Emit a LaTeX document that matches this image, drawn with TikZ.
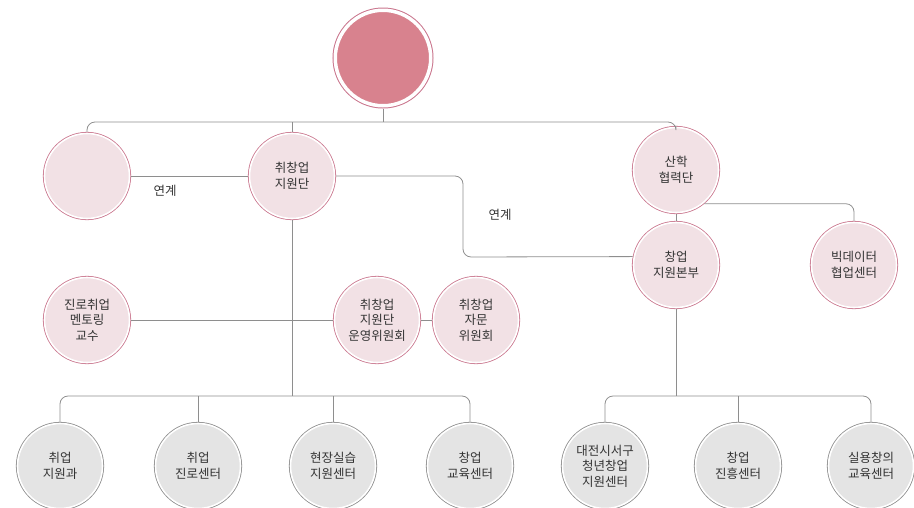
\documentclass[tikz,border=0pt]{standalone}
\usepackage{fontspec}
\newfontfamily\kr{Noto Sans CJK KR}
\definecolor{pinkring}{HTML}{C9748C}
\definecolor{pinkfill}{HTML}{F2E1E5}
\definecolor{topfill}{HTML}{D8828E}
\definecolor{grayring}{HTML}{8C8C8C}
\definecolor{grayfill}{HTML}{E4E4E4}
\definecolor{linegray}{HTML}{8E8E8E}
\definecolor{textgray}{HTML}{333333}
\begin{document}
\begin{tikzpicture}[x=1pt, y=-1pt,
		unit/.style={circle, inner sep=0pt, outer sep=1.6pt, minimum size=85pt, align=center,
			font=\kr\fontsize{12.5}{15.5}\selectfont, text=textgray, draw=white, line width=1.6pt},
		pinkunit/.style={unit, fill=pinkfill, preaction={draw=pinkring, line width=3.2pt}},
		grayunit/.style={unit, fill=grayfill, preaction={draw=grayring, line width=3.2pt}},
		topunit/.style={circle, inner sep=0pt, outer sep=2.75pt, minimum size=95.5pt, fill=topfill,
			draw=white, line width=3.5pt, preaction={draw=pinkring, line width=5.5pt}},
		link/.style={draw=linegray, line width=0.8pt, rounded corners=8pt},
		tag/.style={font=\kr\fontsize{12.5}{15}\selectfont, text=textgray}
		]
	\clip (0,0) rectangle (914,507);
	% top and first level
	\node [topunit] (top) at (383,58) {};
	\node [pinkunit] (blank) at (87,176) {};
	\node [pinkunit] (jw) at (292,176) {취창업\\지원단};
	\node [pinkunit] (sh) at (676,170) {산학\\협력단};
	\node [pinkunit] (cb) at (676,265) {창업\\지원본부};
	\node [pinkunit] (bd) at (854,265) {빅데이터\\협업센터};
	% committees
	\node [pinkunit] (mentor) at (87,320) {진로취업\\멘토링\\교수};
	\node [pinkunit] (opcom) at (377,320) {취창업\\지원단\\운영위원회};
	\node [pinkunit] (advcom) at (476,320) {취창업\\자문\\위원회};
	% centers
	\node [grayunit] (c1) at (60,466) {취업\\지원과};
	\node [grayunit] (c2) at (198,466) {취업\\진로센터};
	\node [grayunit] (c3) at (333,466) {현장실습\\지원센터};
	\node [grayunit] (c4) at (470,466) {창업\\교육센터};
	\node [grayunit] (r1) at (605,466) {대전시서구\\청년창업\\지원센터};
	\node [grayunit] (r2) at (738,466) {창업\\진흥센터};
	\node [grayunit] (r3) at (871,466) {실용창의\\교육센터};

	\coordinate (topbus) at (383,122);
	\coordinate (turn) at (463,257);
	\coordinate (lbus) at (292,396);
	\coordinate (rbus) at (676,396);

	\draw [link] (top) -- (topbus);
	\draw [link] (blank.north) |- (topbus) -| (sh.north);
	\draw [link] (jw.north) -- (jw.north |- topbus);
	\draw [link] (blank) -- (jw);
	\draw [link] (jw.east) -| (turn) -- (cb.169);
	\draw [link] (sh) -- (cb);
	\draw [link] (sh.-50) -| (bd.north);
	\draw [link] (mentor) -- (opcom);
	\draw [link] (opcom) -- (advcom);
	\draw [link] (jw) -- (lbus);
	\draw [link] (c1.north) |- (lbus) -| (c4.north);
	\draw [link] (c2) -- (c2 |- lbus);
	\draw [link] (c3) -- (c3 |- lbus);
	\draw [link] (cb) -- (rbus);
	\draw [link] (r1.north) |- (rbus) -| (r3.north);
	\draw [link] (r2) -- (r2 |- rbus);

	\node [tag] (tag1) at (165,191) {연계};
	\node [tag] (tag2) at (500,215) {연계};
\end{tikzpicture}
\end{document}
